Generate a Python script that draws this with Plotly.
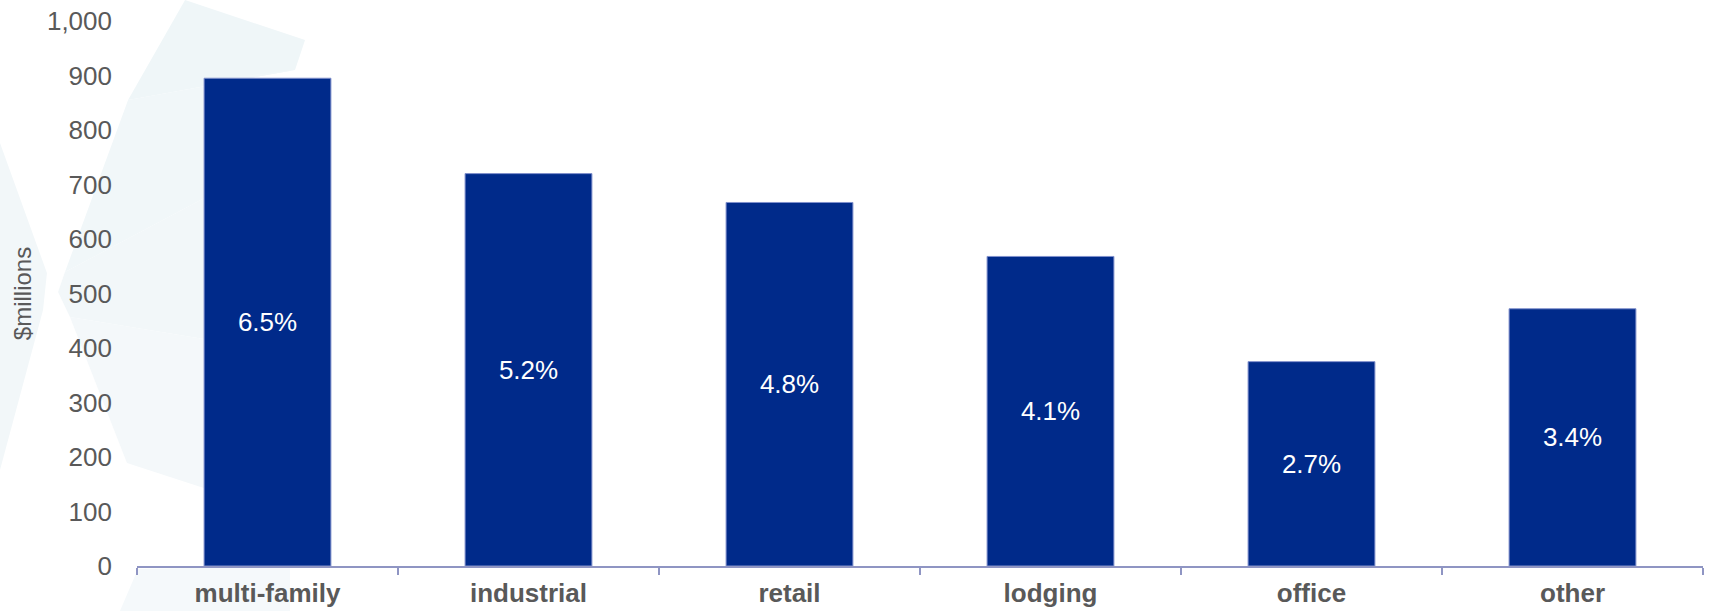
import plotly.graph_objects as go

# Loan volume by property type ($ millions) and share labels
categories = ["multi-family", "industrial", "retail", "lodging", "office", "other"]
values = [895, 720, 667, 568, 375, 472]
shares = ["6.5%", "5.2%", "4.8%", "4.1%", "2.7%", "3.4%"]
y_ticks = [0, 100, 200, 300, 400, 500, 600, 700, 800, 900, 1000]

W, H = 1711, 611
L, R, T, B = 137, 8, 21, 45
PW, PH = W - L - R, H - T - B
FONT = "Liberation Sans, Arial"


def to_paper(pts):
    return [((x - L) / PW, (H - B - y) / PH) for x, y in pts]


def path(pts):
    p = to_paper(pts)
    return "M " + " L ".join(f"{x:.4f},{y:.4f}" for x, y in p) + " Z"


# faint decorative star facets behind the chart (pixel coordinates)
facets = [
    ([(185, 0), (305, 40), (295, 70), (128, 100)], "#eff6f8"),
    ([(128, 100), (295, 70), (210, 80), (210, 195), (65, 272)], "#f1f7f9"),
    ([(65, 272), (210, 195), (210, 340), (70, 317), (58, 292)], "#f2f7f9"),
    ([(70, 317), (210, 340), (210, 490), (127, 463)], "#f4f8fa"),
    ([(0, 143), (47, 273), (43, 310), (0, 470)], "#f2f7f9"),
    ([(120, 611), (138, 569), (290, 566), (290, 611)], "#f5f9fb"),
]
shapes = [
    dict(type="path", xref="paper", yref="paper", path=path(pts),
         fillcolor=c, line=dict(width=0), layer="below")
    for pts, c in facets
]

fig = go.Figure(
    go.Bar(
        x=categories,
        y=values,
        text=shares,
        textposition="inside",
        insidetextanchor="middle",
        textangle=0,
        textfont=dict(family=FONT, size=26, color="white"),
        marker=dict(color="#002A8A", line=dict(color="#8090cc", width=1)),
        width=0.486,
        hoverinfo="skip",
    )
)

fig.update_layout(
    width=W,
    height=H,
    margin=dict(l=L, r=R, t=T, b=B, autoexpand=False),
    paper_bgcolor="white",
    plot_bgcolor="rgba(0,0,0,0)",
    showlegend=False,
    shapes=shapes,
    font=dict(family=FONT, color="#595959"),
    uniformtext=dict(mode=False),
)

fig.update_xaxes(
    automargin=False,
    showline=True,
    linecolor="#8f95c3",
    linewidth=2,
    ticks="outside",
    tickson="boundaries",
    ticklen=7,
    tickwidth=2,
    tickcolor="#8f95c3",
    tickfont=dict(family=FONT, size=26, color="#595959", weight="bold"),
    ticklabelstandoff=3,
    showgrid=False,
    zeroline=False,
)

fig.update_yaxes(
    automargin=False,
    range=[0, 1000],
    tickvals=y_ticks,
    ticktext=[f"{v:,}" for v in y_ticks],
    tickfont=dict(family=FONT, size=26, color="#595959"),
    ticklabelstandoff=24,
    showgrid=False,
    zeroline=False,
    showline=False,
    title=dict(text="$millions", font=dict(family=FONT, size=24, color="#595959"), standoff=8),
)

fig.write_html("out.html")
